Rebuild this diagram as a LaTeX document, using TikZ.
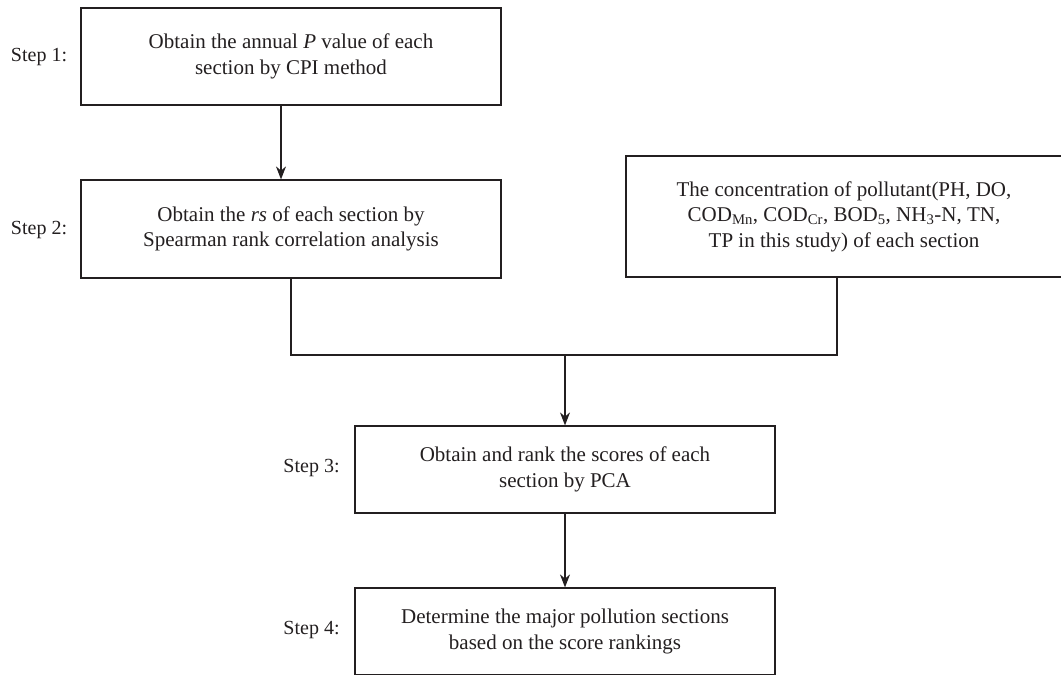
\documentclass[tikz,border=0pt]{standalone}
\usepackage{fontspec}
\setmainfont{Liberation Serif}
\usetikzlibrary{arrows.meta}
\definecolor{ink}{HTML}{231F20}
\begin{document}
\begin{tikzpicture}[x=1pt,y=1pt,
  every node/.style={text=ink},
  box/.style={draw=ink, line width=1.2pt, align=center, inner sep=0pt,
    font=\fontsize{21}{25.5}\selectfont},
  lbl/.style={font=\fontsize{20}{25}\selectfont, inner sep=0pt},
  conn/.style={draw=ink, line width=1.2pt},
  arr/.style={conn, -{Stealth[length=13pt,width=10pt]}}]
\useasboundingbox (0,0) rectangle (1061,-675);
\node[box, minimum width=420pt, minimum height=97pt] (b1) at (291,-56.5)
  {Obtain the annual \textit{P} value of each\\section by CPI method};
\node[box, minimum width=420pt, minimum height=98pt] (b2) at (291,-229)
  {Obtain the \textit{rs} of each section by\\Spearman rank correlation analysis};
\node[box, minimum width=436pt, minimum height=121pt] (r) at (844,-216.5)
  {The concentration of pollutant(PH, DO,\\COD\textsubscript{Mn}, COD\textsubscript{Cr}, BOD\textsubscript{5}, NH\textsubscript{3}-N, TN,\\TP in this study) of each section};
\node[box, minimum width=420pt, minimum height=87pt] (b3) at (565,-469.5)
  {Obtain and rank the scores of each\\section by PCA};
\node[box, minimum width=420pt, minimum height=87pt] (b4) at (565,-631.5)
  {Determine the major pollution sections\\based on the score rankings};
\node[lbl] (s1) at (39,-57) {Step 1:};
\node[lbl] (s2) at (39,-230) {Step 2:};
\node[lbl] (s3) at (311.5,-468) {Step 3:};
\node[lbl] (s4) at (311.5,-630) {Step 4:};
\coordinate (j) at (565,-355);
\draw[arr] ([xshift=-10pt]b1.south) -- ([xshift=-10pt]b2.north);
\draw[conn] (b2.south) |- (j) -| ([xshift=-7pt]r.south);
\draw[arr] (j) -- (b3.north);
\draw[arr] (b3.south) -- (b4.north);
\end{tikzpicture}
\end{document}
